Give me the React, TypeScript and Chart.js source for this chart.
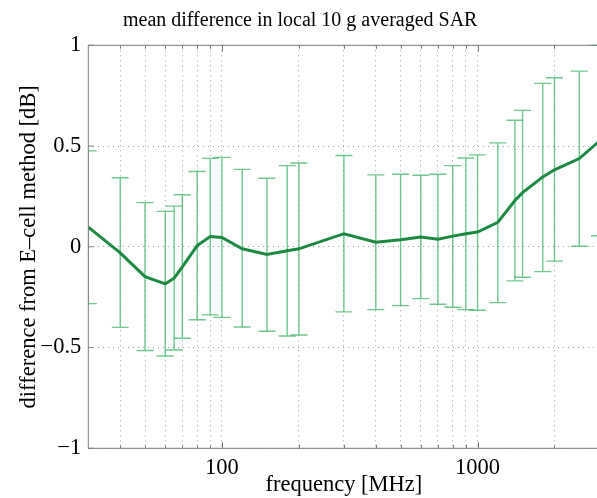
import React, { useEffect, useRef } from 'react';
import { Chart, registerables } from 'chart.js';

Chart.register(...registerables);

// ---- data ----
const frequencies = [30, 40, 50, 60, 65, 70, 80, 90, 100, 120, 150, 180, 200, 300, 400, 500, 600, 700, 800, 900, 1000, 1200, 1400, 1500, 1800, 2000, 2500, 3000];
const meanDiff = [0.098, -0.03, -0.148, -0.184, -0.156, -0.1, 0.006, 0.051, 0.046, -0.01, -0.038, -0.02, -0.01, 0.065, 0.023, 0.035, 0.048, 0.038, 0.053, 0.065, 0.073, 0.121, 0.23, 0.269, 0.347, 0.382, 0.438, 0.525];
const upperBound = [0.476, 0.343, 0.219, 0.176, 0.202, 0.258, 0.374, 0.439, 0.444, 0.384, 0.34, 0.403, 0.416, 0.453, 0.357, 0.36, 0.355, 0.36, 0.403, 0.441, 0.456, 0.516, 0.628, 0.677, 0.811, 0.839, 0.872, 1.0];
const lowerBound = [-0.282, -0.4, -0.515, -0.542, -0.512, -0.454, -0.362, -0.338, -0.35, -0.398, -0.419, -0.443, -0.438, -0.323, -0.312, -0.292, -0.257, -0.285, -0.3, -0.312, -0.315, -0.277, -0.169, -0.151, -0.123, -0.071, 0.003, 0.055];

const xGridTicks = [40, 50, 60, 70, 80, 90, 100, 200, 300, 400, 500, 600, 700, 800, 900, 1000, 2000, 3000];
const xLabelTicks = [100, 1000];
const yTicks = [-1, -0.5, 0, 0.5, 1];

const titleText = 'mean difference in local 10 g averaged SAR';
const xTitleText = 'frequency [MHz]';
const yTitleText = 'difference from E\u2013cell method [dB]';

const FONT = '"Liberation Serif", "Times New Roman", Times, serif';
const LINE_COLOR = '#1b8a40';
const BAR_COLOR = 'rgba(70,185,110,0.78)';
const GRID_COLOR = '#9a9a9a';
const FRAME_COLOR = '#7a7a7a';

const errorBarPlugin = {
  id: 'errorBars',
  beforeDatasetsDraw(chart: any) {
    const { ctx, chartArea, scales } = chart;
    const x = scales.x;
    const y = scales.y;
    ctx.save();
    ctx.beginPath();
    ctx.rect(chartArea.left, chartArea.top - 1, chartArea.right - chartArea.left, chartArea.bottom - chartArea.top + 2);
    ctx.clip();
    ctx.strokeStyle = BAR_COLOR;
    ctx.lineWidth = 1.4;
    const cap = 8.5;
    frequencies.forEach((f, i) => {
      const px = x.getPixelForValue(f);
      const pu = y.getPixelForValue(upperBound[i]);
      const pl = y.getPixelForValue(lowerBound[i]);
      ctx.beginPath();
      ctx.moveTo(px, pu);
      ctx.lineTo(px, pl);
      ctx.moveTo(px - cap, pu);
      ctx.lineTo(px + cap, pu);
      ctx.moveTo(px - cap, pl);
      ctx.lineTo(px + cap, pl);
      ctx.stroke();
    });
    ctx.restore();
  },
};

const framePlugin = {
  id: 'frame',
  afterDraw(chart: any) {
    const { ctx, chartArea, scales } = chart;
    const { left, right, top, bottom } = chartArea;
    ctx.save();
    ctx.strokeStyle = FRAME_COLOR;
    ctx.lineWidth = 1;
    ctx.beginPath();
    ctx.moveTo(left, top);
    ctx.lineTo(right, top);
    ctx.lineTo(right, bottom);
    ctx.lineTo(left, bottom);
    ctx.closePath();
    ctx.stroke();
    // inward tick marks
    ctx.beginPath();
    xGridTicks.forEach((v) => {
      const px = Math.round(scales.x.getPixelForValue(v)) + 0.5;
      const len = xLabelTicks.includes(v) ? 6 : 3.5;
      ctx.moveTo(px, bottom);
      ctx.lineTo(px, bottom - len);
      ctx.moveTo(px, top);
      ctx.lineTo(px, top + len);
    });
    yTicks.forEach((v) => {
      const py = scales.y.getPixelForValue(v);
      ctx.moveTo(left, py);
      ctx.lineTo(left + 5, py);
    });
    ctx.stroke();
    // x axis title
    ctx.fillStyle = '#000';
    ctx.font = `22.5px ${FONT}`;
    ctx.textAlign = 'center';
    ctx.textBaseline = 'alphabetic';
    ctx.fillText(xTitleText, (left + right) / 2, bottom + 42.7);
    ctx.restore();
  },
};

export default function App() {
  const canvasRef = useRef<HTMLCanvasElement | null>(null);

  useEffect(() => {
    const canvas = canvasRef.current;
    if (!canvas) return;
    const chart = new Chart(canvas, {
      type: 'line',
      data: {
        datasets: [
          {
            label: 'mean difference',
            data: frequencies.map((f, i) => ({ x: f, y: meanDiff[i] })),
            borderColor: LINE_COLOR,
            backgroundColor: LINE_COLOR,
            borderWidth: 3,
            pointRadius: 0,
            tension: 0,
            fill: false,
          },
        ],
      },
      options: {
        animation: false,
        responsive: true,
        maintainAspectRatio: false,
        layout: { padding: { left: 0, right: 5.6, top: 0, bottom: 0 } },
        plugins: {
          legend: { display: false },
          tooltip: { enabled: false },
          title: {
            display: true,
            text: titleText,
            color: '#000',
            font: { family: FONT, size: 20, weight: 'normal', lineHeight: 1.2 },
            padding: { top: 9, bottom: 12.3 },
          },
        },
        scales: {
          x: {
            type: 'logarithmic',
            min: 30,
            max: 3000,
            afterBuildTicks: (scale: any) => {
              scale.ticks = xGridTicks.map((v) => ({ value: v }));
            },
            afterFit: (scale: any) => {
              scale.height = 49.7;
            },
            ticks: {
              autoSkip: false,
              maxRotation: 0,
              padding: 6.5,
              color: '#000',
              font: { family: FONT, size: 22.5, lineHeight: 1.2 },
              callback: (value: any) => (xLabelTicks.includes(Number(value)) ? String(value) : ''),
            },
            grid: { color: GRID_COLOR, lineWidth: 1, drawTicks: false },
            border: { display: false, dash: [1, 4] },
          },
          y: {
            type: 'linear',
            min: -1,
            max: 1,
            afterBuildTicks: (scale: any) => {
              scale.ticks = yTicks.map((v) => ({ value: v }));
            },
            afterFit: (scale: any) => {
              scale.width = 88.3;
            },
            ticks: {
              padding: 7,
              color: '#000',
              font: { family: FONT, size: 22.5, lineHeight: 1.2 },
              callback: (value: any) => {
                const v = Number(value);
                return v < 0 ? '\u2212' + String(Math.abs(v)) : String(v);
              },
            },
            grid: { color: GRID_COLOR, lineWidth: 1, drawTicks: false },
            border: { display: false, dash: [1, 4] },
            title: {
              display: true,
              text: yTitleText,
              color: '#000',
              font: { family: FONT, size: 22.5, lineHeight: 1.2 },
              padding: { top: 15.5, bottom: 0 },
            },
          },
        },
      },
      plugins: [errorBarPlugin, framePlugin],
    } as any);
    return () => chart.destroy();
  }, []);

  return (
    <div style={{ position: 'fixed', left: 0, top: 0, width: 597, height: 498, overflow: 'hidden', background: '#fff' }}>
      <div style={{ position: 'relative', width: 606, height: 498 }}>
        <canvas ref={canvasRef} />
      </div>
    </div>
  );
}
